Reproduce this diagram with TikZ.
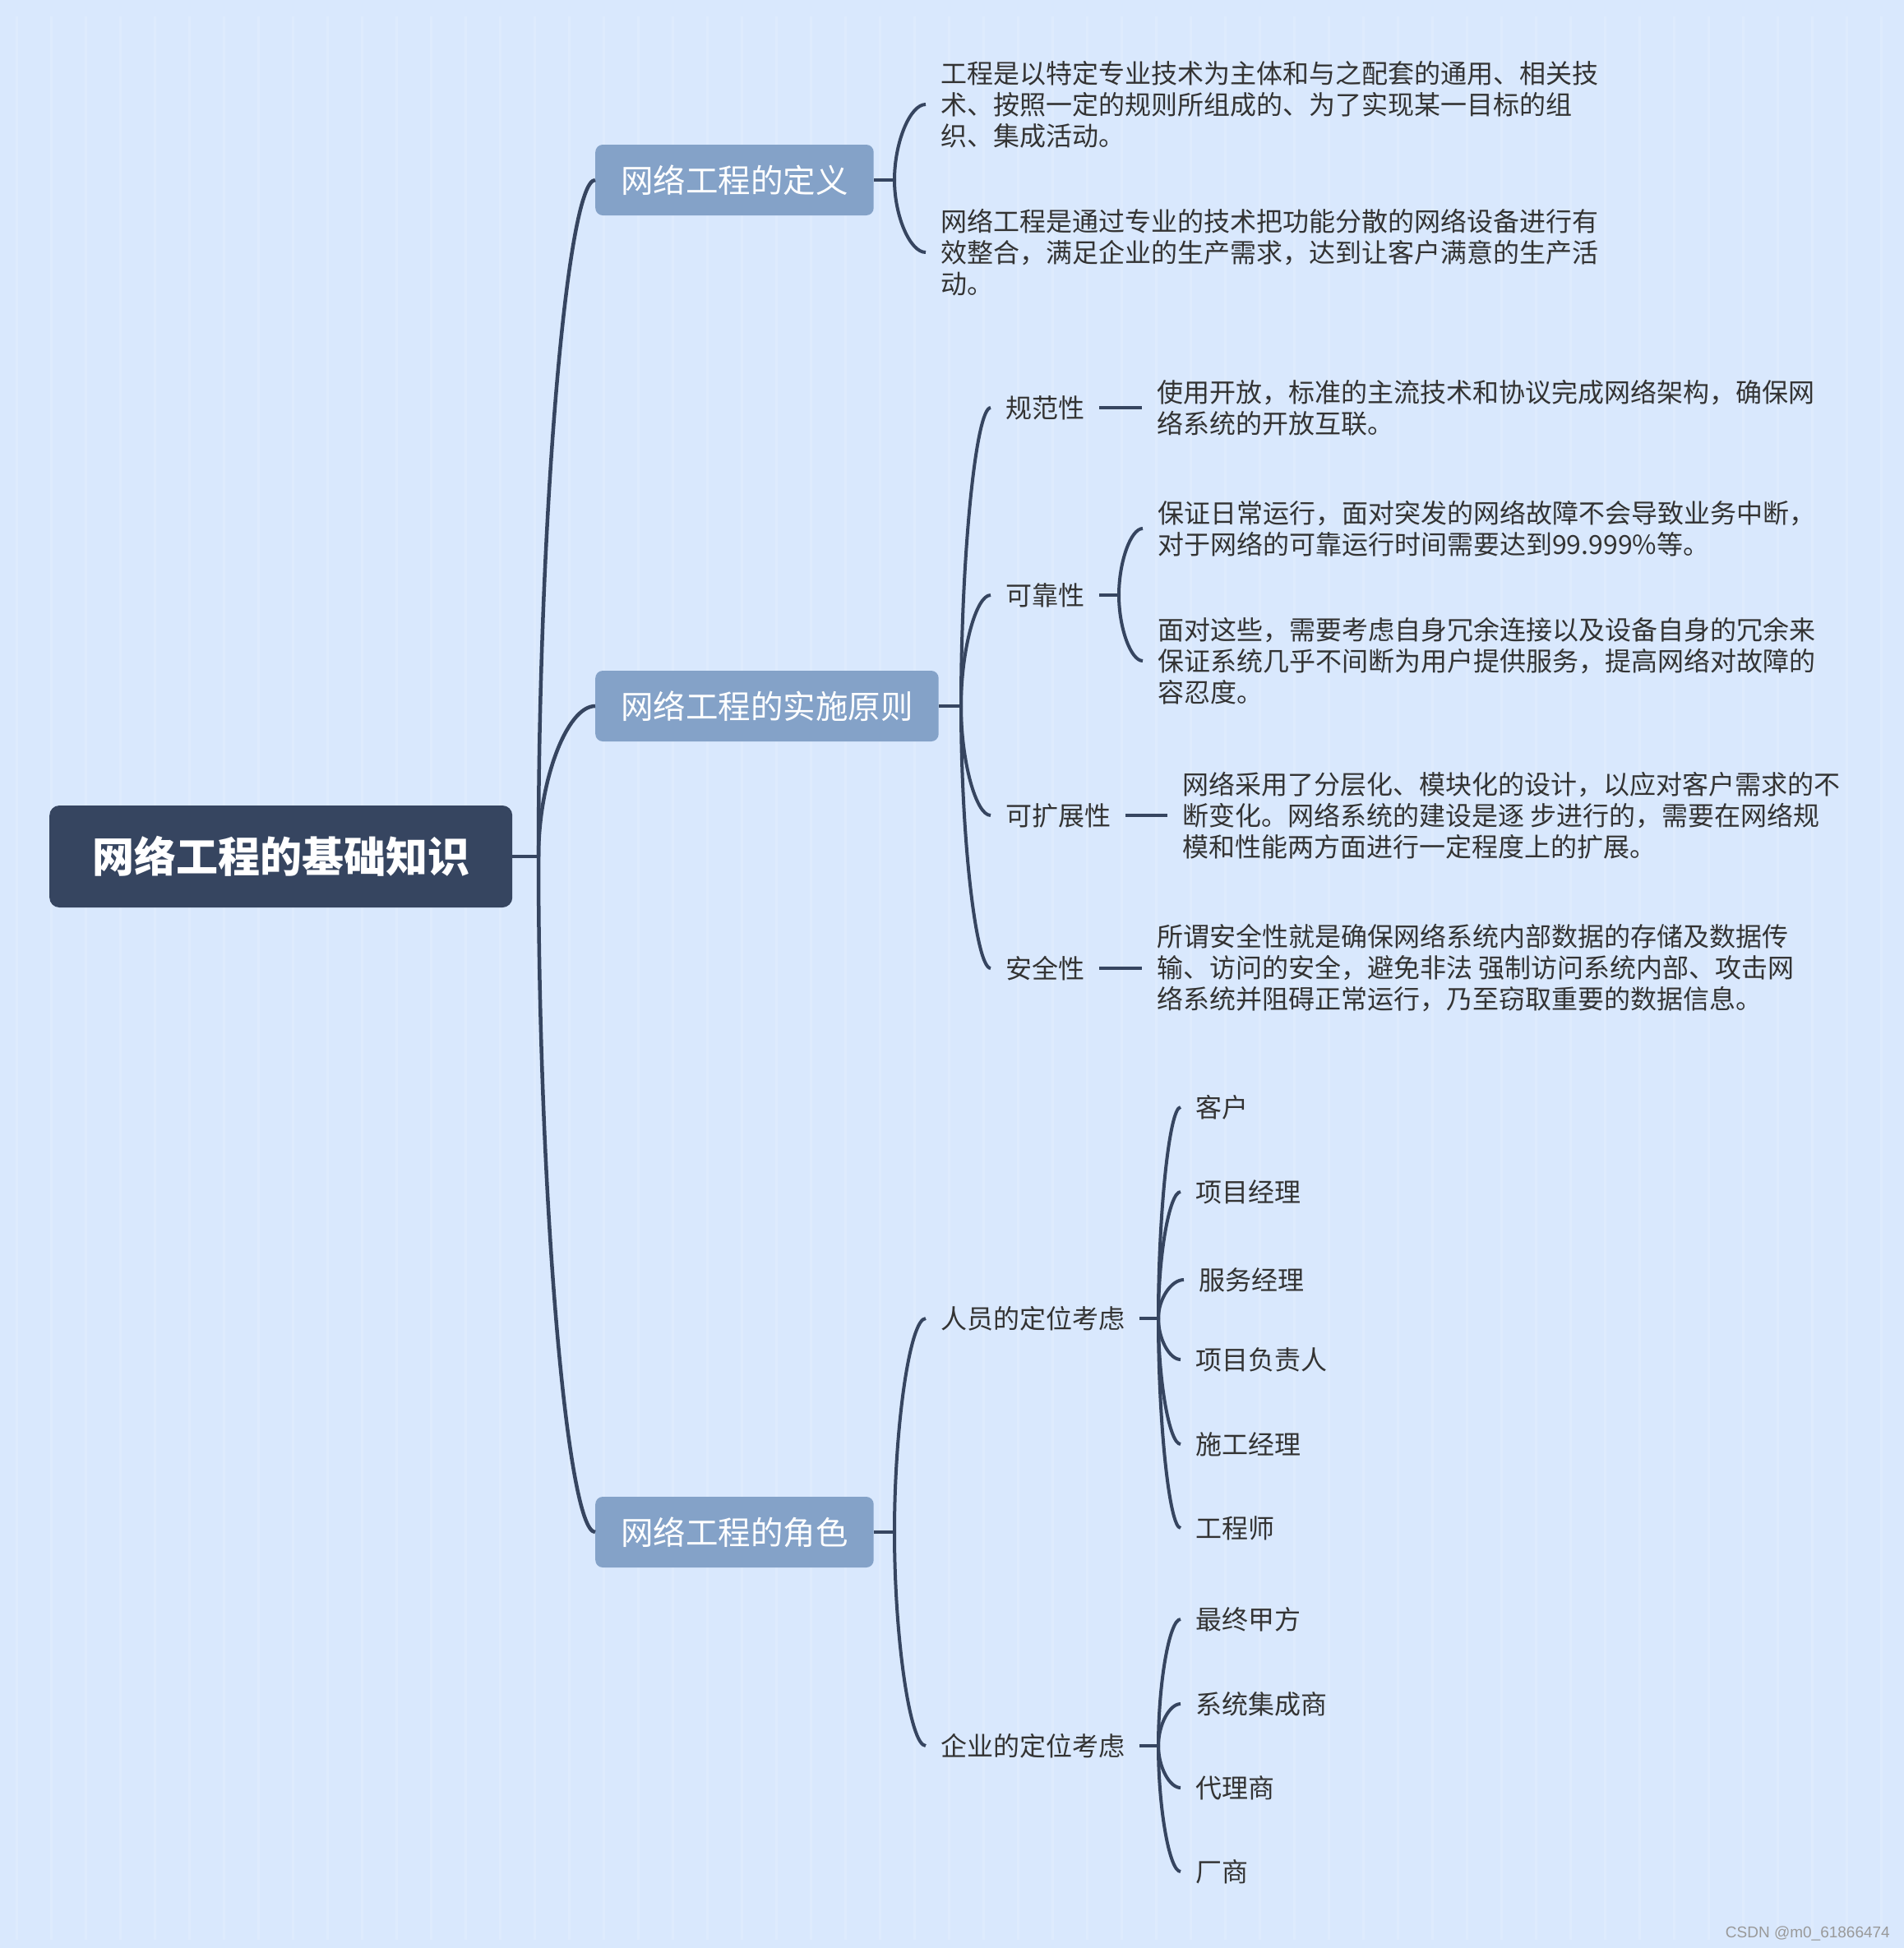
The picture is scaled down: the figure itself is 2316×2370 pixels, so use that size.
\documentclass[tikz,border=0pt]{standalone}
\usepackage{fontspec}
\usetikzlibrary{calc}
\newfontfamily\cjk{Noto Sans CJK SC}
\newfontfamily\wmfont{Liberation Sans}
\definecolor{bgc}{HTML}{D9E8FD}
\definecolor{navy}{HTML}{364560}
\definecolor{midc}{HTML}{84A2C8}
\definecolor{txtc}{HTML}{333333}
\begin{document}
\begin{tikzpicture}[x=1pt,y=-1pt,
  rootbox/.style={fill=navy, rounded corners=12pt, text=white, font=\cjk\bfseries\fontsize{51}{60}\selectfont, inner xsep=52pt, inner ysep=0pt, minimum height=124pt, anchor=west},
  lvlbox/.style={fill=midc, rounded corners=9pt, text=white, font=\cjk\fontsize{39.5}{46}\selectfont, inner xsep=31pt, inner ysep=0pt, minimum height=86pt, anchor=west},
  lbl/.style={text=txtc, font=\cjk\fontsize{32}{38}\selectfont, inner xsep=18pt, inner ysep=4pt, anchor=west},
  para/.style={lbl, align=left},
  link/.style={navy, line width=4pt},
  mainlink/.style={navy, line width=4.5pt},
]
\fill[bgc] (0,0) rectangle (2316,2370);
\begin{scope}[shift={(20,20)}]
\draw[white, opacity=0.15, line width=3pt, step=42] (0,0) grid (2290,2340);
\end{scope}
\useasboundingbox (0,0) rectangle (2316,2370);

% curved connector: from junction #2 to node anchor #3
\newcommand{\mmcurve}[3][link]{%
  \draw[#1] (#2) .. controls ($(#2)!0.5!(#2 |- #3)$) and ($(#3)!0.5!(#2 |- #3)$) .. (#3);}

% root
\node[rootbox] (root) at (60,1042) {网络工程的基础知识};
\coordinate (j0) at (655,1042);

% level 1
\node[lvlbox] (def) at (724,219) {网络工程的定义};
\node[lvlbox] (prin) at (724,859) {网络工程的实施原则};
\node[lvlbox] (role) at (724,1864) {网络工程的角色};

\draw[mainlink] (root.east) -- (j0);
\mmcurve[mainlink]{j0}{def.west}
\mmcurve[mainlink]{j0}{prin.west}
\mmcurve[mainlink]{j0}{role.west}

% definition
\coordinate (jdef) at (1088,219);
\node[para] (d1) at (1126,127) {工程是以特定专业技术为主体和与之配套的通用、相关技\\术、按照一定的规则所组成的、为了实现某一目标的组\\织、集成活动。};
\node[para] (d2) at (1126,307) {网络工程是通过专业的技术把功能分散的网络设备进行有\\效整合，满足企业的生产需求，达到让客户满意的生产活\\动。};
\draw[link] (def.east) -- (jdef);
\mmcurve{jdef}{d1.west}
\mmcurve{jdef}{d2.west}

% principles
\coordinate (jpr) at (1169,859);
\node[lbl] (gf) at (1205,496) {规范性};
\node[lbl] (kk) at (1205,724) {可靠性};
\node[lbl] (kz) at (1205,992) {可扩展性};
\node[lbl] (aq) at (1205,1178) {安全性};
\draw[link] (prin.east) -- (jpr);
\mmcurve{jpr}{gf.west}
\mmcurve{jpr}{kk.west}
\mmcurve{jpr}{kz.west}
\mmcurve{jpr}{aq.west}

\node[para] (gft) at (1389,496) {使用开放，标准的主流技术和协议完成网络架构，确保网\\络系统的开放互联。};
\draw[link] (gf.east) -- (gft.west);

\coordinate (jkk) at (1361,724);
\node[para] (kk1) at (1390,643) {保证日常运行，面对突发的网络故障不会导致业务中断，\\对于网络的可靠运行时间需要达到99.999\%等。};
\node[para] (kk2) at (1390,804) {面对这些，需要考虑自身冗余连接以及设备自身的冗余来\\保证系统几乎不间断为用户提供服务，提高网络对故障的\\容忍度。};
\draw[link] (kk.east) -- (jkk);
\mmcurve{jkk}{kk1.west}
\mmcurve{jkk}{kk2.west}

\node[para] (kzt) at (1420,992) {网络采用了分层化、模块化的设计，以应对客户需求的不\\断变化。网络系统的建设是逐 步进行的，需要在网络规\\模和性能两方面进行一定程度上的扩展。};
\draw[link] (kz.east) -- (kzt.west);

\node[para] (aqt) at (1389,1178) {所谓安全性就是确保网络系统内部数据的存储及数据传\\输、访问的安全，避免非法 强制访问系统内部、攻击网\\络系统并阻碍正常运行，乃至窃取重要的数据信息。};
\draw[link] (aq.east) -- (aqt.west);

% roles
\coordinate (jro) at (1088,1864);
\node[lbl] (ry) at (1126,1604) {人员的定位考虑};
\node[lbl] (qy) at (1126,2124) {企业的定位考虑};
\draw[link] (role.east) -- (jro);
\mmcurve{jro}{ry.west}
\mmcurve{jro}{qy.west}

\coordinate (jry) at (1409,1604);
\draw[link] (ry.east) -- (jry);
\node[lbl] (r1) at (1436,1347) {客户};
\node[lbl] (r2) at (1436,1450) {项目经理};
\node[lbl] (r3) at (1440,1557) {服务经理};
\node[lbl] (r4) at (1436,1654) {项目负责人};
\node[lbl] (r5) at (1436,1757) {施工经理};
\node[lbl] (r6) at (1436,1859) {工程师};
\mmcurve{jry}{r1.west}
\mmcurve{jry}{r2.west}
\mmcurve{jry}{r3.west}
\mmcurve{jry}{r4.west}
\mmcurve{jry}{r5.west}
\mmcurve{jry}{r6.west}

\coordinate (jqy) at (1409,2124);
\draw[link] (qy.east) -- (jqy);
\node[lbl] (q1) at (1436,1970) {最终甲方};
\node[lbl] (q2) at (1436,2073) {系统集成商};
\node[lbl] (q3) at (1436,2175) {代理商};
\node[lbl] (q4) at (1436,2277) {厂商};
\mmcurve{jqy}{q1.west}
\mmcurve{jqy}{q2.west}
\mmcurve{jqy}{q3.west}
\mmcurve{jqy}{q4.west}

% watermark
\node[anchor=east, text=gray!80, font=\wmfont\fontsize{19}{22}\selectfont, inner sep=0pt] (wm) at (2299,2352) {CSDN @m0\_61866474};
\end{tikzpicture}
\end{document}
